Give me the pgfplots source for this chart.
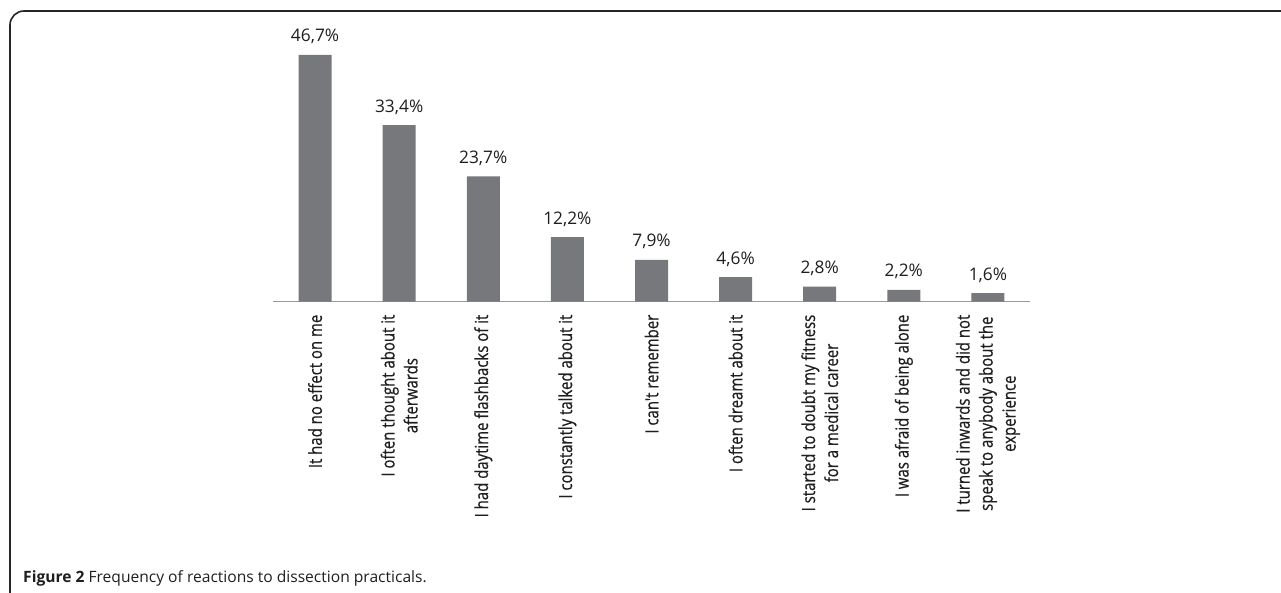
\documentclass[border=0pt]{standalone}
\usepackage{pgfplots}
\pgfplotsset{compat=1.18}
\usepackage{fontspec}
\setmainfont{Open Sans}
\newfontfamily\tickfont[FakeStretch=0.83, FakeBold=0.5]{Open Sans}
\definecolor{bargray}{HTML}{77787C}
\definecolor{axisgray}{HTML}{9A9A9A}
\definecolor{txt}{HTML}{1E1E1E}
\begin{document}
\begin{tikzpicture}[x=1pt,y=1pt]
\useasboundingbox (0,0) rectangle (1281,592);
% frame: only top and left edges show
\draw[line width=1.6pt, black!85, rounded corners=14pt] (10,-20) -- (10,581) -- (1300,581);
\node[anchor=base west, inner sep=0pt, text=txt, font=\fontsize{15.6}{18}\selectfont]
  at (23,10) {\textbf{Figure 2} Frequency of reactions to dissection practicals.};
\begin{axis}[
  at={(273pt,290.5pt)}, anchor=south west,
  scale only axis, width=757pt, height=264pt,
  xmin=-0.5, xmax=8.5, ymin=0, ymax=50,
  axis x line*=bottom, axis y line=none,
  x axis line style={-, draw=axisgray, line width=1.3pt},
  ytick=\empty,
  xtick={0,...,8},
  major tick length=0pt,
  xticklabels={
    {It had no effect on me},
    {I often thought about it\\afterwards},
    {I had daytime flashbacks of it},
    {I constantly talked about it},
    {I can't remember},
    {I often dreamt about it},
    {I started to doubt my fitness\\for a medical career},
    {I was afraid of being alone},
    {I turned inwards and did not\\speak to anybody about the\\experience}},
  xticklabel shift=13pt,
  xticklabel style={rotate=90, anchor=east, align=center, inner sep=0pt,
    text=txt, font=\tickfont\fontsize{18}{23}\selectfont},
  ybar, bar width=33pt,
  nodes near coords, point meta=explicit symbolic,
  every node near coord/.append style={anchor=base, inner sep=0pt, yshift=13pt,
    text=txt, font=\fontsize{17.3}{20}\selectfont},
]
\addplot[fill=bargray, draw=none] coordinates {
  (0,46.7) [46,7\%]
  (1,33.4) [33,4\%]
  (2,23.7) [23,7\%]
  (3,12.2) [12,2\%]
  (4,7.9)  [7,9\%]
  (5,4.6)  [4,6\%]
  (6,2.8)  [2,8\%]
  (7,2.2)  [2,2\%]
  (8,1.6)  [1,6\%]
};
\end{axis}
\end{tikzpicture}
\end{document}
